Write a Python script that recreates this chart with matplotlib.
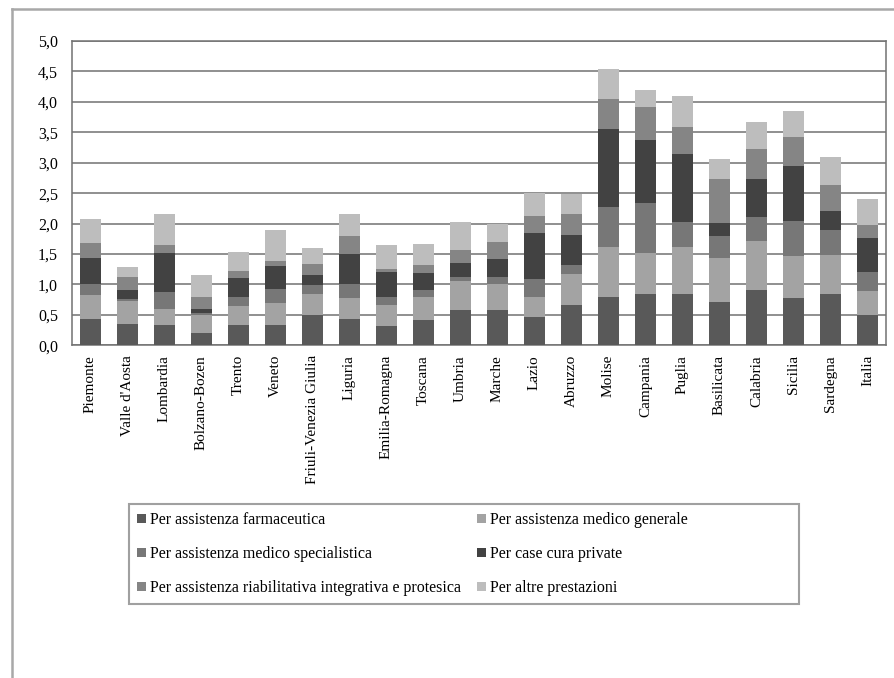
import matplotlib
matplotlib.use("Agg")
import matplotlib.pyplot as plt
from matplotlib.ticker import FuncFormatter
from matplotlib.patches import Rectangle
from matplotlib.lines import Line2D
import numpy as np

# regioni e valori (euro)
regioni = ["Piemonte", "Valle d'Aosta", "Lombardia", "Bolzano-Bozen", "Trento",
           "Veneto", "Friuli-Venezia Giulia", "Liguria", "Emilia-Romagna",
           "Toscana", "Umbria", "Marche", "Lazio", "Abruzzo", "Molise",
           "Campania", "Puglia", "Basilicata", "Calabria", "Sicilia",
           "Sardegna", "Italia"]

farmaceutica = [0.44, 0.35, 0.34, 0.20, 0.33, 0.33, 0.49, 0.44, 0.32, 0.42, 0.58,
                0.58, 0.46, 0.67, 0.79, 0.85, 0.85, 0.71, 0.91, 0.77, 0.85, 0.49]
medico_generale = [0.39, 0.37, 0.25, 0.29, 0.32, 0.36, 0.35, 0.33, 0.35, 0.37, 0.48,
                   0.42, 0.34, 0.50, 0.82, 0.66, 0.76, 0.73, 0.80, 0.70, 0.63, 0.41]
medico_specialistica = [0.18, 0.04, 0.28, 0.04, 0.14, 0.23, 0.15, 0.24, 0.13, 0.12, 0.07,
                        0.13, 0.29, 0.15, 0.66, 0.82, 0.41, 0.35, 0.39, 0.58, 0.41, 0.30]
case_cura = [0.42, 0.15, 0.65, 0.07, 0.31, 0.38, 0.16, 0.49, 0.40, 0.27, 0.22,
             0.28, 0.76, 0.49, 1.28, 1.05, 1.12, 0.22, 0.63, 0.90, 0.31, 0.56]
riabilitativa = [0.25, 0.22, 0.13, 0.20, 0.12, 0.09, 0.18, 0.30, 0.06, 0.14, 0.22,
                 0.29, 0.27, 0.34, 0.50, 0.54, 0.45, 0.72, 0.50, 0.48, 0.43, 0.22]
altre = [0.39, 0.16, 0.51, 0.36, 0.31, 0.51, 0.27, 0.36, 0.39, 0.34, 0.46,
         0.29, 0.39, 0.34, 0.49, 0.27, 0.51, 0.33, 0.44, 0.42, 0.47, 0.43]

serie = [
    ("Per assistenza farmaceutica", farmaceutica, "#595959"),
    ("Per assistenza medico generale", medico_generale, "#a3a3a3"),
    ("Per assistenza medico specialistica", medico_specialistica, "#777777"),
    ("Per case cura private", case_cura, "#424242"),
    ("Per assistenza riabilitativa integrativa e protesica", riabilitativa, "#858585"),
    ("Per altre prestazioni", altre, "#bdbdbd"),
]

plt.rcParams['font.family'] = ['Liberation Serif', 'DejaVu Serif']

fig = plt.figure(figsize=(8.95, 6.78), dpi=100)
ax = fig.add_axes([72 / 895, 1 - 345.3 / 678, 814 / 895, 304.3 / 678])

x = np.arange(len(regioni))
bottom = np.zeros(len(regioni))
handles = {}
for nome, valori, colore in serie:
    b = ax.bar(x, valori, 0.57, bottom=bottom, color=colore, label=nome, zorder=3)
    handles[nome] = b
    bottom += np.array(valori)

ax.set_xlim(-0.5, len(regioni) - 0.5)
ax.set_ylim(0, 5)
ax.set_yticks(np.arange(0, 5.01, 0.5))
ax.yaxis.set_major_formatter(FuncFormatter(lambda v, p: f"{v:.1f}".replace(".", ",")))
ax.set_xticks(x)
ax.set_xticklabels(regioni, rotation=90, fontsize=11)
ax.tick_params(axis='y', labelsize=11.5, length=0, pad=10)
ax.tick_params(axis='x', length=0, pad=7)
ax.yaxis.grid(True, color="#727272", linewidth=1.1, zorder=0)
for s in ax.spines.values():
    s.set_color("#727272")
    s.set_linewidth(1.1)

# legenda riga per riga
ordine = [0, 2, 4, 1, 3, 5]
h = [handles[serie[i][0]] for i in ordine]
l = [serie[i][0] for i in ordine]
fig.legend(h, l, loc="upper left", bbox_to_anchor=(137 / 895, 1 - 512 / 678),
           ncol=2, frameon=False, fontsize=11.5, handlelength=0.55,
           handleheight=0.55, handletextpad=0.25, labelspacing=1.13,
           columnspacing=1.0, borderpad=0, borderaxespad=0)
fig.patches.append(Rectangle((129 / 895, 1 - 604 / 678), 670 / 895, 100 / 678,
                             transform=fig.transFigure, fill=False,
                             edgecolor="#a0a0a0", linewidth=1.5))

# cornice esterna
fig.lines.append(Line2D([12 / 895, 12 / 895], [0, 1 - 9 / 678], transform=fig.transFigure,
                        color="#a8a8a8", linewidth=1.8))
fig.lines.append(Line2D([12 / 895, 1], [1 - 9 / 678, 1 - 9 / 678], transform=fig.transFigure,
                        color="#a8a8a8", linewidth=1.8))

fig.savefig("out.png", dpi=100)
